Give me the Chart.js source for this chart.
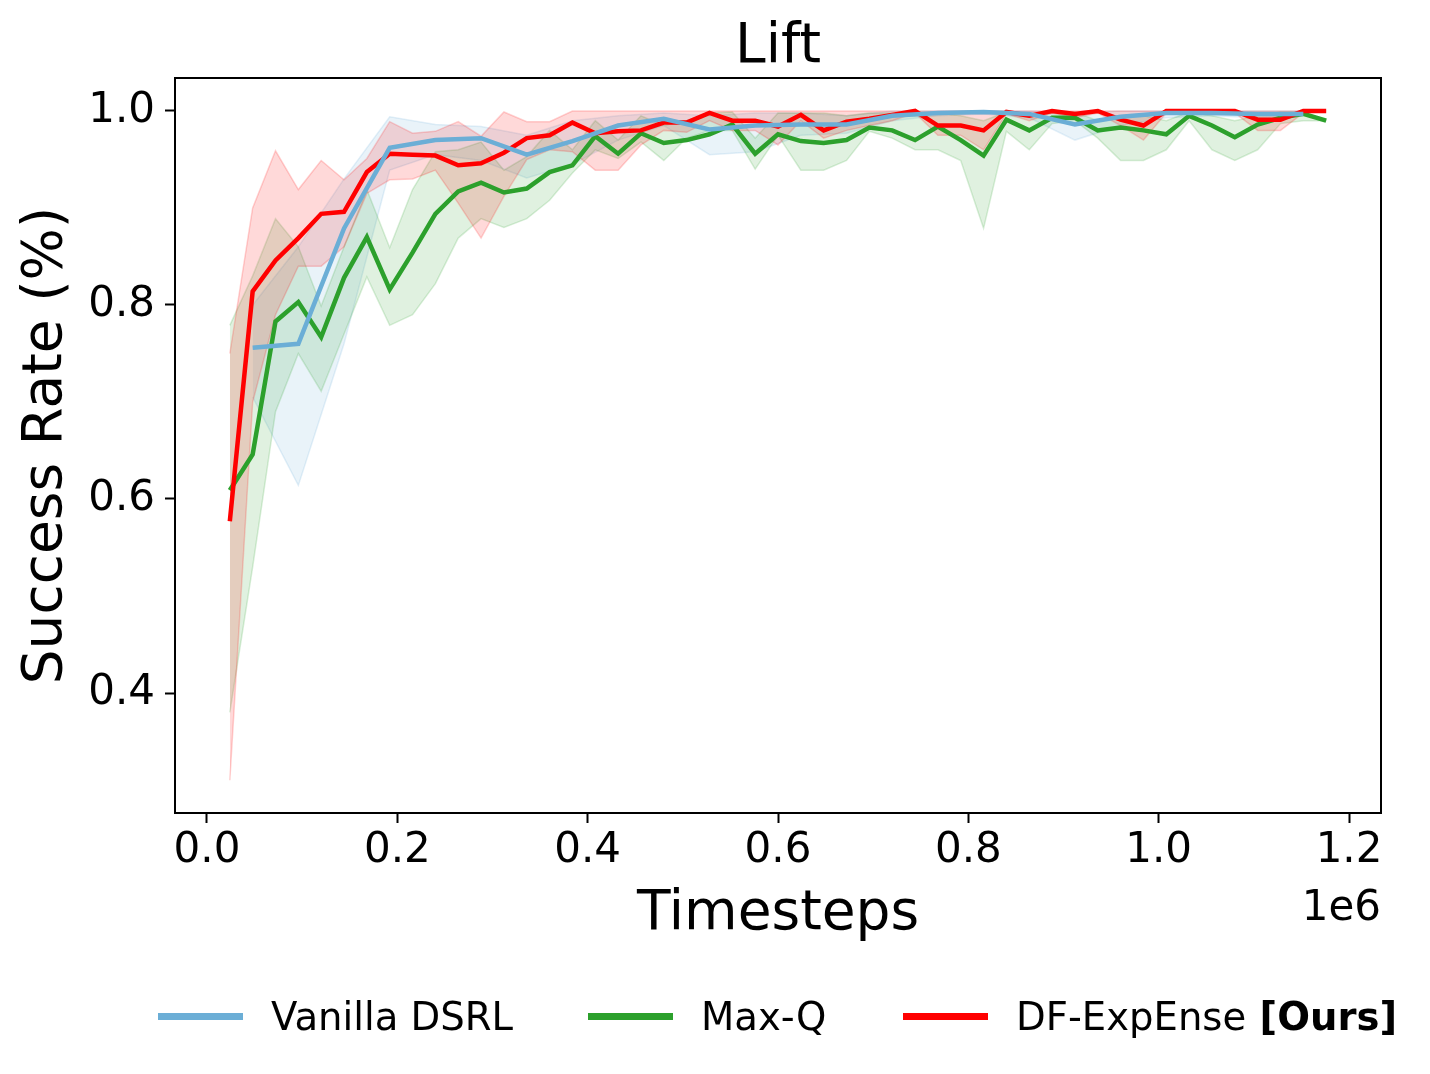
<!DOCTYPE html>
<html>
<head>
<meta charset="utf-8">
<script src="https://cdn.jsdelivr.net/npm/chart.js@4.4.1/dist/chart.umd.min.js"></script>
<style>
  html, body { margin: 0; padding: 0; background: #fff; }
  #wrap { position: relative; width: 1430px; height: 1074px; }
  #chart { position: absolute; left: 0; top: 0; }
  .legend-item { position: absolute; top: 993px; height: 46px; display: flex; align-items: center;
                 font-family: "DejaVu Sans"; font-size: 38.6px; color: #000; white-space: nowrap; }
  .legend-line { display: inline-block; width: 85px; height: 7px; margin-right: 28px; }
</style>
</head>
<body>
<div id="wrap">
  <canvas id="chart" width="1430" height="1074"></canvas>
</div>
<script>
// ---- data ----
const chartTitle = 'Lift';
const xTitle = 'Timesteps';
const yTitle = 'Success Rate (%)';
const offsetText = '1e6';

const xTicks = [0, 200000, 400000, 600000, 800000, 1000000, 1200000];
const yTicks = [0.4, 0.6, 0.8, 1.0];

// evaluation steps (every 24k timesteps)
const steps = [24000, 48000, 72000, 96000, 120000, 144000, 168000, 192000, 216000, 240000,
  264000, 288000, 312000, 336000, 360000, 384000, 408000, 432000, 456000, 480000,
  504000, 528000, 552000, 576000, 600000, 624000, 648000, 672000, 696000, 720000,
  744000, 768000, 792000, 816000, 840000, 864000, 888000, 912000, 936000, 960000,
  984000, 1008000, 1032000, 1056000, 1080000, 1104000, 1128000, 1152000, 1176000];
// Vanilla DSRL evaluated every 48k
const blueSteps = [48000, 96000, 144000, 192000, 240000, 288000, 336000, 384000, 432000, 480000,
  528000, 576000, 624000, 672000, 720000, 768000, 816000, 864000, 912000, 960000,
  1008000, 1056000, 1104000, 1152000];

const blueMean = [0.756, 0.760, 0.879, 0.962, 0.970, 0.972, 0.955, 0.969, 0.985, 0.992,
  0.981, 0.985, 0.986, 0.986, 0.995, 0.998, 0.999, 0.997, 0.986, 0.994,
  0.998, 0.998, 0.997, 0.997];
const blueUpper = [0.800, 0.860, 0.930, 0.994, 0.986, 0.984, 0.975, 0.990, 0.995, 0.998,
  0.995, 0.998, 0.998, 0.995, 1.000, 1.000, 1.000, 1.000, 0.998, 1.000,
  1.000, 1.000, 1.000, 1.000];
const blueLower = [0.705, 0.614, 0.760, 0.939, 0.955, 0.949, 0.931, 0.945, 0.970, 0.985,
  0.955, 0.958, 0.975, 0.977, 0.990, 0.995, 0.997, 0.993, 0.970, 0.985,
  0.993, 0.995, 0.993, 0.995];

const greenMean = [0.609, 0.646, 0.783, 0.803, 0.767, 0.828, 0.870, 0.816, 0.854, 0.894,
  0.917, 0.926, 0.916, 0.920, 0.937, 0.944, 0.974, 0.956, 0.977, 0.967,
  0.970, 0.976, 0.986, 0.956, 0.976, 0.969, 0.967, 0.970, 0.983, 0.980,
  0.970, 0.984, 0.970, 0.954, 0.991, 0.980, 0.993, 0.993, 0.980, 0.983,
  0.980, 0.976, 0.995, 0.985, 0.973, 0.986, 0.993, 0.997, 0.990];
const greenUpper = [0.779, 0.830, 0.889, 0.860, 0.799, 0.860, 0.919, 0.859, 0.919, 0.958,
  0.960, 0.968, 0.939, 0.953, 0.980, 0.960, 0.990, 0.970, 0.995, 0.985,
  0.990, 0.998, 0.999, 0.972, 0.998, 0.998, 0.998, 0.995, 0.998, 0.998,
  0.995, 0.998, 0.995, 0.990, 0.999, 0.995, 0.999, 0.999, 0.990, 0.995,
  0.995, 0.990, 0.999, 0.995, 0.990, 0.995, 0.999, 0.999, 0.990];
const greenLower = [0.380, 0.530, 0.690, 0.750, 0.711, 0.770, 0.829, 0.779, 0.790, 0.822,
  0.869, 0.889, 0.880, 0.889, 0.908, 0.936, 0.960, 0.951, 0.968, 0.949,
  0.972, 0.980, 0.980, 0.940, 0.975, 0.939, 0.939, 0.949, 0.979, 0.972,
  0.960, 0.960, 0.949, 0.879, 0.979, 0.960, 0.987, 0.990, 0.972, 0.949,
  0.949, 0.960, 0.990, 0.960, 0.949, 0.960, 0.987, 0.990, 0.990];

const redMean = [0.577, 0.814, 0.846, 0.869, 0.894, 0.896, 0.937, 0.956, 0.955, 0.954,
  0.944, 0.946, 0.957, 0.972, 0.975, 0.988, 0.977, 0.979, 0.980, 0.988,
  0.988, 0.998, 0.990, 0.990, 0.984, 0.996, 0.980, 0.989, 0.992, 0.996,
  1.000, 0.985, 0.985, 0.980, 0.999, 0.995, 1.000, 0.997, 1.000, 0.991,
  0.985, 1.000, 1.000, 1.000, 1.000, 0.991, 0.991, 1.000, 1.000];
const redUpper = [0.750, 0.900, 0.959, 0.919, 0.949, 0.929, 0.951, 0.989, 0.977, 0.979,
  0.989, 0.974, 0.999, 0.989, 0.989, 1.000, 1.000, 1.000, 1.000, 1.000,
  1.000, 1.000, 1.000, 1.000, 1.000, 1.000, 1.000, 1.000, 1.000, 1.000,
  1.000, 1.000, 1.000, 1.000, 1.000, 1.000, 1.000, 1.000, 1.000, 1.000,
  1.000, 1.000, 1.000, 1.000, 1.000, 1.000, 1.000, 1.000, 1.000];
const redLower = [0.310, 0.700, 0.790, 0.840, 0.840, 0.860, 0.915, 0.929, 0.930, 0.939,
  0.905, 0.869, 0.912, 0.950, 0.960, 0.958, 0.939, 0.939, 0.965, 0.980,
  0.978, 0.990, 0.980, 0.980, 0.965, 0.990, 0.972, 0.980, 0.985, 0.990,
  0.998, 0.975, 0.975, 0.960, 0.997, 0.990, 0.998, 0.993, 0.998, 0.985,
  0.970, 0.998, 0.998, 0.998, 0.998, 0.980, 0.980, 0.998, 1.000];

const seriesNames = ['Vanilla DSRL', 'Max-Q', 'DF-ExpEnse'];
const seriesColors = ['rgb(107,174,214)', 'rgb(44,160,44)', 'rgb(255,0,0)'];

// ---- helpers ----
function toPoints(xs, ys) {
    return xs.map((x, i) => ({x: x, y: ys[i]}));
}
function withAlpha(rgb, a) {
    return rgb.replace('rgb(', 'rgba(').replace(')', ',' + a + ')');
}

const series = [
    {xs: blueSteps, mean: blueMean, upper: blueUpper, lower: blueLower},
    {xs: steps, mean: greenMean, upper: greenUpper, lower: greenLower},
    {xs: steps, mean: redMean, upper: redUpper, lower: redLower}
];
const lineOrder = [0, 2, 1];  // blue drawn on top, then red, then green

const datasets = [];
series.forEach((s, i) => {
    const c = seriesColors[i];
    // shaded band: upper fills down to the lower dataset right after it
    datasets.push({
        label: seriesNames[i] + ' upper',
        data: toPoints(s.xs, s.upper),
        borderColor: withAlpha(c, 0.18),
        backgroundColor: withAlpha(c, 0.15),
        borderWidth: 1.5,
        pointRadius: 0,
        fill: '+1',
        order: 10 - i
    });
    datasets.push({
        label: seriesNames[i] + ' lower',
        data: toPoints(s.xs, s.lower),
        borderColor: withAlpha(c, 0.18),
        backgroundColor: 'transparent',
        borderWidth: 1.5,
        pointRadius: 0,
        fill: false,
        order: 10 - i
    });
});
series.forEach((s, i) => {
    datasets.push({
        label: seriesNames[i],
        data: toPoints(s.xs, s.mean),
        borderColor: seriesColors[i],
        backgroundColor: seriesColors[i],
        borderWidth: 4.5,
        pointRadius: 0,
        fill: false,
        order: lineOrder[i]
    });
});

// frame around the axes, title and the x offset label
const framePlugin = {
    id: 'frame',
    afterDraw(chart) {
        const {ctx, chartArea: a} = chart;
        ctx.save();
        ctx.strokeStyle = '#000';
        ctx.lineWidth = 2;
        ctx.strokeRect(a.left, a.top, a.right - a.left, a.bottom - a.top);
        ctx.fillStyle = '#000';
        ctx.font = '55px "DejaVu Sans"';
        ctx.textAlign = 'center';
        ctx.textBaseline = 'alphabetic';
        ctx.fillText(chartTitle, (a.left + a.right) / 2, 62);
        ctx.font = '42px "DejaVu Sans"';
        ctx.textAlign = 'right';
        ctx.fillText(offsetText, a.right, 920);
        ctx.restore();
    }
};

Chart.defaults.font.family = '"DejaVu Sans"';
Chart.defaults.color = '#000';

const tickGrid = {
    display: true,
    drawOnChartArea: false,
    drawTicks: true,
    tickLength: 10,
    tickWidth: 2,
    tickColor: '#000'
};

new Chart(document.getElementById('chart').getContext('2d'), {
    type: 'line',
    data: {datasets: datasets},
    options: {
        responsive: false,
        animation: false,
        devicePixelRatio: 1,
        layout: {padding: {top: 78, right: 49, bottom: 0, left: 0}},
        plugins: {
            legend: {display: false},
            tooltip: {enabled: false},
            filler: {propagate: false}
        },
        elements: {line: {tension: 0}},
        scales: {
            x: {
                type: 'linear',
                min: -33600,
                max: 1233600,
                grid: tickGrid,
                border: {display: false},
                afterBuildTicks: scale => { scale.ticks = xTicks.map(v => ({value: v})); },
                afterFit: scale => { scale.height = 261; },
                ticks: {
                    font: {size: 42},
                    padding: 3,
                    maxRotation: 0,
                    callback: v => (v / 1e6).toFixed(1)
                },
                title: {display: true, text: xTitle, font: {size: 55}, padding: {top: 0, bottom: 126}}
            },
            y: {
                type: 'linear',
                min: 0.2763,
                max: 1.034,
                grid: tickGrid,
                border: {display: false},
                afterBuildTicks: scale => { scale.ticks = yTicks.map(v => ({value: v})); },
                afterFit: scale => { scale.width = 175; },
                ticks: {
                    font: {size: 42},
                    padding: 10,
                    callback: v => v.toFixed(1)
                },
                title: {display: true, text: yTitle, font: {size: 55}, padding: {top: 14, bottom: 0}}
            }
        }
    },
    plugins: [framePlugin]
});

// legend (HTML so the "[Ours]" part can be bold)
const legendLeft = [158, 588, 903];
const wrap = document.getElementById('wrap');
seriesNames.forEach((name, i) => {
    const item = document.createElement('div');
    item.className = 'legend-item';
    item.style.left = legendLeft[i] + 'px';
    const line = document.createElement('span');
    line.className = 'legend-line';
    line.style.background = seriesColors[i];
    item.appendChild(line);
    const txt = document.createElement('span');
    txt.textContent = name;
    item.appendChild(txt);
    if (i === 2) {
        const b = document.createElement('b');
        b.textContent = '\u00a0[Ours]';
        item.appendChild(b);
    }
    wrap.appendChild(item);
});
</script>
</body>
</html>
